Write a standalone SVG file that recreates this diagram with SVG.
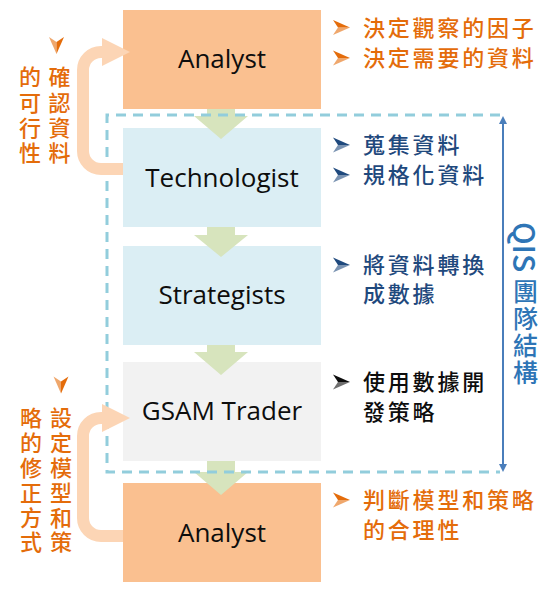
<svg xmlns="http://www.w3.org/2000/svg" width="559" height="592" viewBox="0 0 559 592">
<defs>
<style>
.lbl{font-family:"Open Sans","Noto Sans",sans-serif;font-size:26px;fill:#0d0d0d;text-anchor:middle}
.cjk{font-family:"Noto Sans CJK TC","Noto Sans CJK SC",sans-serif;font-size:22px;font-weight:500;letter-spacing:2.8px}
.or{fill:#E46C0A}
.nv{fill:#1F497D}
.bk{fill:#0d0d0d}
.vt{font-family:"Noto Sans CJK TC","Noto Sans CJK SC",sans-serif;font-size:22px;font-weight:500;fill:#E46C0A;writing-mode:vertical-rl}
.qis{font-family:"Noto Sans CJK TC","Noto Sans CJK SC",sans-serif;font-weight:500;fill:#2E75B6}
.green{fill:#D7E4BD}
.peach{fill:none;stroke:#FCD5B5;stroke-width:12}
.peachhead{fill:#FCD5B5}
.dash{fill:none;stroke:#92CDDC;stroke-width:3;stroke-dasharray:10 7}
</style>
<marker id="ba" viewBox="0 0 10 10" refX="0" refY="5" markerWidth="8" markerHeight="8" markerUnits="userSpaceOnUse" orient="auto-start-reverse">
<path d="M0,0 L10,5 L0,10 z" fill="#4A7EBB"/>
</marker>
<g id="bul">
<path d="M0,0 L17,7.5 L5,7.5 Z"/>
<path d="M5,7.5 L17,7.5 L0,15 Z" fill-opacity="0.6"/>
</g>
</defs>

<g id="analyst-top">
<rect x="123" y="10" width="198" height="99" fill="#FAC090"/>
<text class="lbl" x="222" y="68">Analyst</text>
</g>
<g id="technologist">
<rect x="123" y="128" width="198" height="99" fill="#DBEEF4"/>
<text class="lbl" x="222" y="187">Technologist</text>
</g>
<g id="strategists">
<rect x="123" y="246" width="198" height="99" fill="#DBEEF4"/>
<text class="lbl" x="222" y="304">Strategists</text>
</g>
<g id="gsam-trader">
<rect x="123" y="362" width="198" height="99" fill="#F2F2F2"/>
<text class="lbl" x="222" y="420">GSAM Trader</text>
</g>
<g id="analyst-bottom">
<rect x="123" y="483" width="198" height="99" fill="#FAC090"/>
<text class="lbl" x="222" y="542">Analyst</text>
</g>

<g id="connectors">
<path class="green" d="M207,109 H235 V116 H248 L221,139 L194,116 H207 Z"/>
<path class="green" d="M207,227 H235 V235 H248 L221,257 L194,235 H207 Z"/>
<path class="green" d="M207,345 H235 V352 H248 L221,375 L194,352 H207 Z"/>
<path class="green" d="M207,461 H235 V472 H248 L221,495 L194,472 H207 Z"/>
<path class="dash" d="M500,115 H107 V472 H500"/>
<line x1="503" y1="124" x2="503" y2="464" stroke="#4A7EBB" stroke-width="2" marker-start="url(#ba)" marker-end="url(#ba)"/>
<path class="peach" d="M123,169 H101 A18,18 0 0 1 83,151 V70 A18,18 0 0 1 101,52 H104"/>
<polygon class="peachhead" points="102,38 130,52 102,66"/>
<path class="peach" d="M123,536 H101 A18,18 0 0 1 83,518 V436 A18,18 0 0 1 101,418 H104"/>
<polygon class="peachhead" points="102,404 130,418 102,432"/>
</g>

<g id="note-analyst-top">
<use href="#bul" x="333" y="20" fill="#E46C0A"/>
<text class="cjk or" x="363" y="36">決定觀察的因子</text>
<use href="#bul" x="333" y="50.5" fill="#E46C0A"/>
<text class="cjk or" x="363" y="66">決定需要的資料</text>
</g>
<g id="note-technologist">
<use href="#bul" x="333" y="137.5" fill="#1F497D"/>
<text class="cjk nv" x="363" y="153">蒐集資料</text>
<use href="#bul" x="333" y="167.5" fill="#1F497D"/>
<text class="cjk nv" x="363" y="183">規格化資料</text>
</g>
<g id="note-strategists">
<use href="#bul" x="333" y="257.5" fill="#1F497D"/>
<text class="cjk nv" x="363" y="273">將資料轉換</text>
<text class="cjk nv" x="363" y="302">成數據</text>
</g>
<g id="note-gsam">
<use href="#bul" x="333" y="374.5" fill="#0d0d0d"/>
<text class="cjk bk" x="363" y="390">使用數據開</text>
<text class="cjk bk" x="363" y="419.5">發策略</text>
</g>
<g id="note-analyst-bottom">
<use href="#bul" x="333" y="492.5" fill="#E46C0A"/>
<text class="cjk or" x="363" y="508">判斷模型和策略</text>
<text class="cjk or" x="363" y="537.5">的合理性</text>
</g>

<g id="note-left-top">
<use href="#bul" transform="translate(56.5,45.5) rotate(90) translate(-8.5,-7.5)" fill="#E46C0A"/>
<text class="vt" x="59.5" y="66" letter-spacing="3.3">確認資料</text>
<text class="vt" x="30" y="66" letter-spacing="3.3">的可行性</text>
</g>
<g id="note-left-bottom">
<use href="#bul" transform="translate(61,385) rotate(90) translate(-8.5,-7.5)" fill="#E46C0A"/>
<text class="vt" x="61" y="407" letter-spacing="2.8">設定模型和策</text>
<text class="vt" x="31" y="407" letter-spacing="2.8">略的修正方式</text>
</g>

<g id="qis-label">
<text class="qis" font-size="30" transform="translate(513,222) rotate(90)">QIS</text>
<text class="qis" x="525.5" y="279" font-size="25" letter-spacing="2" writing-mode="vertical-rl">團隊結構</text>
</g>
</svg>
